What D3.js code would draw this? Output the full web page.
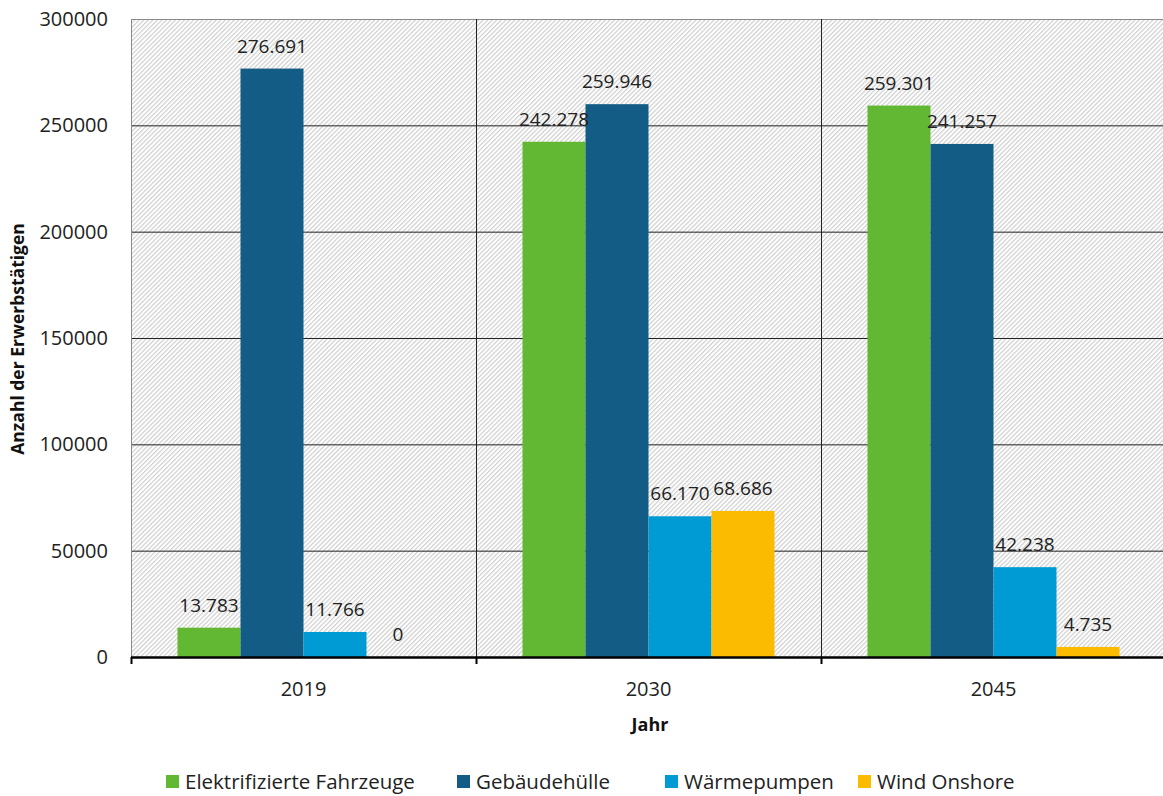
<!DOCTYPE html>
<html>
<head>
<meta charset="utf-8">
<script src="https://cdn.jsdelivr.net/npm/d3@7/dist/d3.min.js"></script>
<style>
  html, body { margin: 0; padding: 0; background: #fff; }
  svg { display: block; font-family: "Open Sans", sans-serif; }
</style>
</head>
<body>
<svg id="chart" width="1163" height="796"></svg>
<script>
// Beschäftigte nach Technologie und Jahr
const years = ["2019", "2030", "2045"];
const series = ["Elektrifizierte Fahrzeuge", "Gebäudehülle", "Wärmepumpen", "Wind Onshore"];
const colors = ["#62b832", "#135c86", "#009bd4", "#fbbb00"];
const fahrzeuge = [13783, 242278, 259301];
const gebaeude = [276691, 259946, 241257];
const waerme = [11766, 66170, 42238];
const wind = [0, 68686, 4735];
const yTicks = [0, 50000, 100000, 150000, 200000, 250000, 300000];

const values = [fahrzeuge, gebaeude, waerme, wind];
const fmt = v => v === 0 ? "0" : d3.format(",")(v).replace(/,/g, ".");

const svg = d3.select("#chart");
const m = { left: 131, top: 19, right: 1166, bottom: 657 };

const x0 = d3.scaleBand().domain(years).range([m.left, m.right]).paddingInner(0).paddingOuter(0);
const x1 = d3.scaleBand().domain(series).range([0, x0.bandwidth()]).paddingInner(0).paddingOuter(0.738);
const y = d3.scaleLinear().domain([0, 300000]).range([m.bottom, m.top]);

// schraffierter Hintergrund
const defs = svg.append("defs");
const pat = defs.append("pattern")
  .attr("id", "hatch").attr("patternUnits", "userSpaceOnUse")
  .attr("width", 3.2).attr("height", 10)
  .attr("patternTransform", "rotate(45)");
pat.append("rect").attr("width", 3.2).attr("height", 10).attr("fill", "#ffffff");
pat.append("line").attr("x1", 0.6).attr("x2", 0.6).attr("y1", 0).attr("y2", 10)
  .attr("stroke", "#cfcfcf").attr("stroke-width", 1.2);

svg.append("rect")
  .attr("x", m.left).attr("y", m.top)
  .attr("width", m.right - m.left).attr("height", m.bottom - m.top)
  .attr("fill", "url(#hatch)");

// horizontale Gitterlinien
svg.append("g").selectAll("line").data(yTicks.filter(d => d > 0 && d < 300000)).join("line")
  .attr("x1", m.left).attr("x2", m.right)
  .attr("y1", d => y(d) + 0.5).attr("y2", d => y(d) + 0.5)
  .attr("stroke", "#222").attr("stroke-width", 1);

// obere Rahmenlinie
svg.append("line").attr("x1", m.left).attr("x2", m.right)
  .attr("y1", y(300000) + 0.5).attr("y2", y(300000) + 0.5)
  .attr("stroke", "#8a8a8a").attr("stroke-width", 1);

// vertikale Trennlinien zwischen den Jahren
svg.append("g").selectAll("line").data(years.slice(1)).join("line")
  .attr("x1", d => x0(d) + 0.5).attr("x2", d => x0(d) + 0.5)
  .attr("y1", m.top).attr("y2", m.bottom)
  .attr("stroke", "#222").attr("stroke-width", 1);

// Balken
const groups = svg.append("g").selectAll("g").data(years).join("g")
  .attr("transform", d => `translate(${x0(d)},0)`);

groups.selectAll("rect")
  .data((d, i) => series.map((s, j) => ({ s, j, v: values[j][i] })))
  .join("rect")
  .attr("x", d => x1(d.s))
  .attr("y", d => y(d.v))
  .attr("width", x1.bandwidth())
  .attr("height", d => y(0) - y(d.v))
  .attr("fill", d => colors[d.j]);

groups.selectAll("text")
  .data((d, i) => series.map((s, j) => ({ s, j, v: values[j][i] })))
  .join("text")
  .attr("x", d => x1(d.s) + x1.bandwidth() / 2)
  .attr("y", d => y(d.v) - 16)
  .attr("text-anchor", "middle")
  .attr("font-size", 19)
  .attr("fill", "#222")
  .text(d => fmt(d.v));

// y-Achse
const yAxis = svg.append("g").attr("transform", `translate(${m.left},0)`);
yAxis.append("line").attr("x1", 0.5).attr("x2", 0.5).attr("y1", m.top).attr("y2", m.bottom)
  .attr("stroke", "#8a8a8a");
yAxis.selectAll("text").data(yTicks).join("text")
  .attr("x", -23).attr("y", d => y(d) + 7)
  .attr("text-anchor", "end")
  .attr("font-size", 20)
  .attr("fill", "#222")
  .text(d => d);

// x-Achse
const xAxis = svg.append("g");
xAxis.append("line").attr("x1", m.left).attr("x2", m.right)
  .attr("y1", m.bottom + 0.5).attr("y2", m.bottom + 0.5)
  .attr("stroke", "#000").attr("stroke-width", 2.5);
xAxis.selectAll("line.tick").data(years).join("line").attr("class", "tick")
  .attr("x1", d => x0(d) + 0.5).attr("x2", d => x0(d) + 0.5)
  .attr("y1", m.bottom).attr("y2", m.bottom + 7)
  .attr("stroke", "#000").attr("stroke-width", 2);
xAxis.selectAll("text").data(years).join("text")
  .attr("x", d => x0(d) + x0.bandwidth() / 2)
  .attr("y", 696)
  .attr("text-anchor", "middle")
  .attr("font-size", 20)
  .attr("fill", "#222")
  .text(d => d);

// Achsentitel
svg.append("text")
  .attr("x", 650).attr("y", 731)
  .attr("text-anchor", "middle")
  .attr("font-size", 18).attr("font-weight", "bold").attr("fill", "#111")
  .text("Jahr");
svg.append("text")
  .attr("transform", `translate(24,339) rotate(-90)`)
  .attr("text-anchor", "middle")
  .attr("font-size", 17.5).attr("font-weight", "bold").attr("fill", "#111")
  .text("Anzahl der Erwerbstätigen");

// Legende
const legendX = [166, 457, 665, 858];
const legend = svg.append("g").selectAll("g").data(series).join("g")
  .attr("transform", (d, i) => `translate(${legendX[i]},775)`);
legend.append("rect").attr("width", 13).attr("height", 13)
  .attr("fill", (d, i) => colors[i]);
legend.append("text").attr("x", 19).attr("y", 14)
  .attr("font-size", 20.5).attr("fill", "#222")
  .text(d => d);
</script>
</body>
</html>
